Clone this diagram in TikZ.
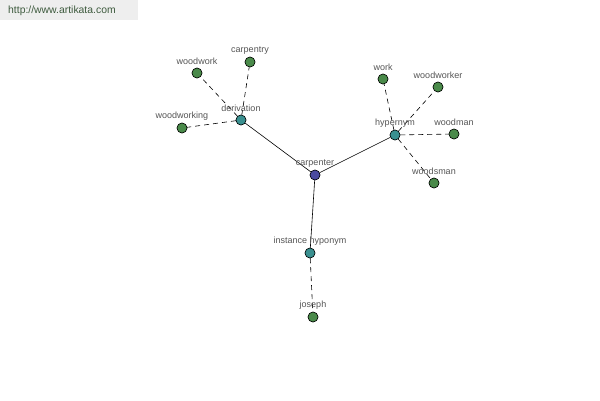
\documentclass[tikz,border=0pt]{standalone}
\usepackage{fontspec}
\setmainfont{Liberation Sans}
\definecolor{hubc}{HTML}{4B4BA0}
\definecolor{midc}{HTML}{3A9090}
\definecolor{leafc}{HTML}{4A8A4A}
\definecolor{labc}{HTML}{555555}
\definecolor{hdrbg}{HTML}{EEEEEE}
\definecolor{hdrtx}{HTML}{3D5A3D}
\begin{document}
\begin{tikzpicture}[x=1pt,y=-1pt,
  dot/.style={circle,draw=black,line width=0.5pt,minimum size=10pt,inner sep=0pt},
  hub/.style={dot,fill=hubc},
  mid/.style={dot,fill=midc},
  leaf/.style={dot,fill=leafc},
  lab/.style={text=labc,font=\fontsize{9}{10}\selectfont,inner sep=0pt},
  solidedge/.style={draw=black,line width=0.6pt},
  dashedge/.style={draw=black,line width=0.6pt,dash pattern=on 5pt off 4pt}]
\useasboundingbox (0,0) rectangle (600,400);
\fill[white] (0,0) rectangle (600,400);
\fill[hdrbg] (0,0) rectangle (138,20);
\node[text=hdrtx,font=\fontsize{10.4}{11}\selectfont,anchor=west,inner sep=0pt] (hdr) at (8,11) {http://www.artikata.com};
% nodes
\node[hub] (carpenter) at (315,175) {};
\node[mid] (derivation) at (241,120) {};
\node[mid] (hypernym) at (395,135) {};
\node[mid] (instance) at (310,253) {};
\node[leaf] (woodwork) at (197,73) {};
\node[leaf] (carpentry) at (250,62) {};
\node[leaf] (woodworking) at (182,128) {};
\node[leaf] (work) at (383,79) {};
\node[leaf] (woodworker) at (438,87) {};
\node[leaf] (woodman) at (454,134) {};
\node[leaf] (woodsman) at (434,183) {};
\node[leaf] (joseph) at (313,317) {};
% edges
\path[solidedge] (carpenter) -- (derivation);
\path[solidedge] (carpenter) -- (hypernym);
\path[solidedge] (carpenter) -- (instance);
\path[dashedge] (derivation) -- (woodwork);
\path[dashedge] (derivation) -- (carpentry);
\path[dashedge] (derivation) -- (woodworking);
\path[dashedge] (hypernym) -- (work);
\path[dashedge] (hypernym) -- (woodworker);
\path[dashedge] (hypernym) -- (woodman);
\path[dashedge] (hypernym) -- (woodsman);
\path[dashedge] (instance) -- (joseph);
% redraw nodes on top
\foreach \n/\s in {carpenter/hub,derivation/mid,hypernym/mid,instance/mid,woodwork/leaf,carpentry/leaf,woodworking/leaf,work/leaf,woodworker/leaf,woodman/leaf,woodsman/leaf,joseph/leaf}
  \node[\s] at (\n) {};
% labels
\node[lab] (lcarpenter) at ([yshift=11.5pt]carpenter) {carpenter};
\node[lab] (lderivation) at ([yshift=11.5pt]derivation) {derivation};
\node[lab] (lhypernym) at ([yshift=11.5pt]hypernym) {hypernym};
\node[lab] (linstance) at ([yshift=11.5pt]instance) {instance hyponym};
\node[lab] (lwoodwork) at ([yshift=11.5pt]woodwork) {woodwork};
\node[lab] (lcarpentry) at ([yshift=11.5pt]carpentry) {carpentry};
\node[lab] (lwoodworking) at ([yshift=11.5pt]woodworking) {woodworking};
\node[lab] (lwork) at ([yshift=11.5pt]work) {work};
\node[lab] (lwoodworker) at ([yshift=11.5pt]woodworker) {woodworker};
\node[lab] (lwoodman) at ([yshift=11.5pt]woodman) {woodman};
\node[lab] (lwoodsman) at ([yshift=11.5pt]woodsman) {woodsman};
\node[lab] (ljoseph) at ([yshift=11.5pt]joseph) {joseph};
\end{tikzpicture}
\end{document}
